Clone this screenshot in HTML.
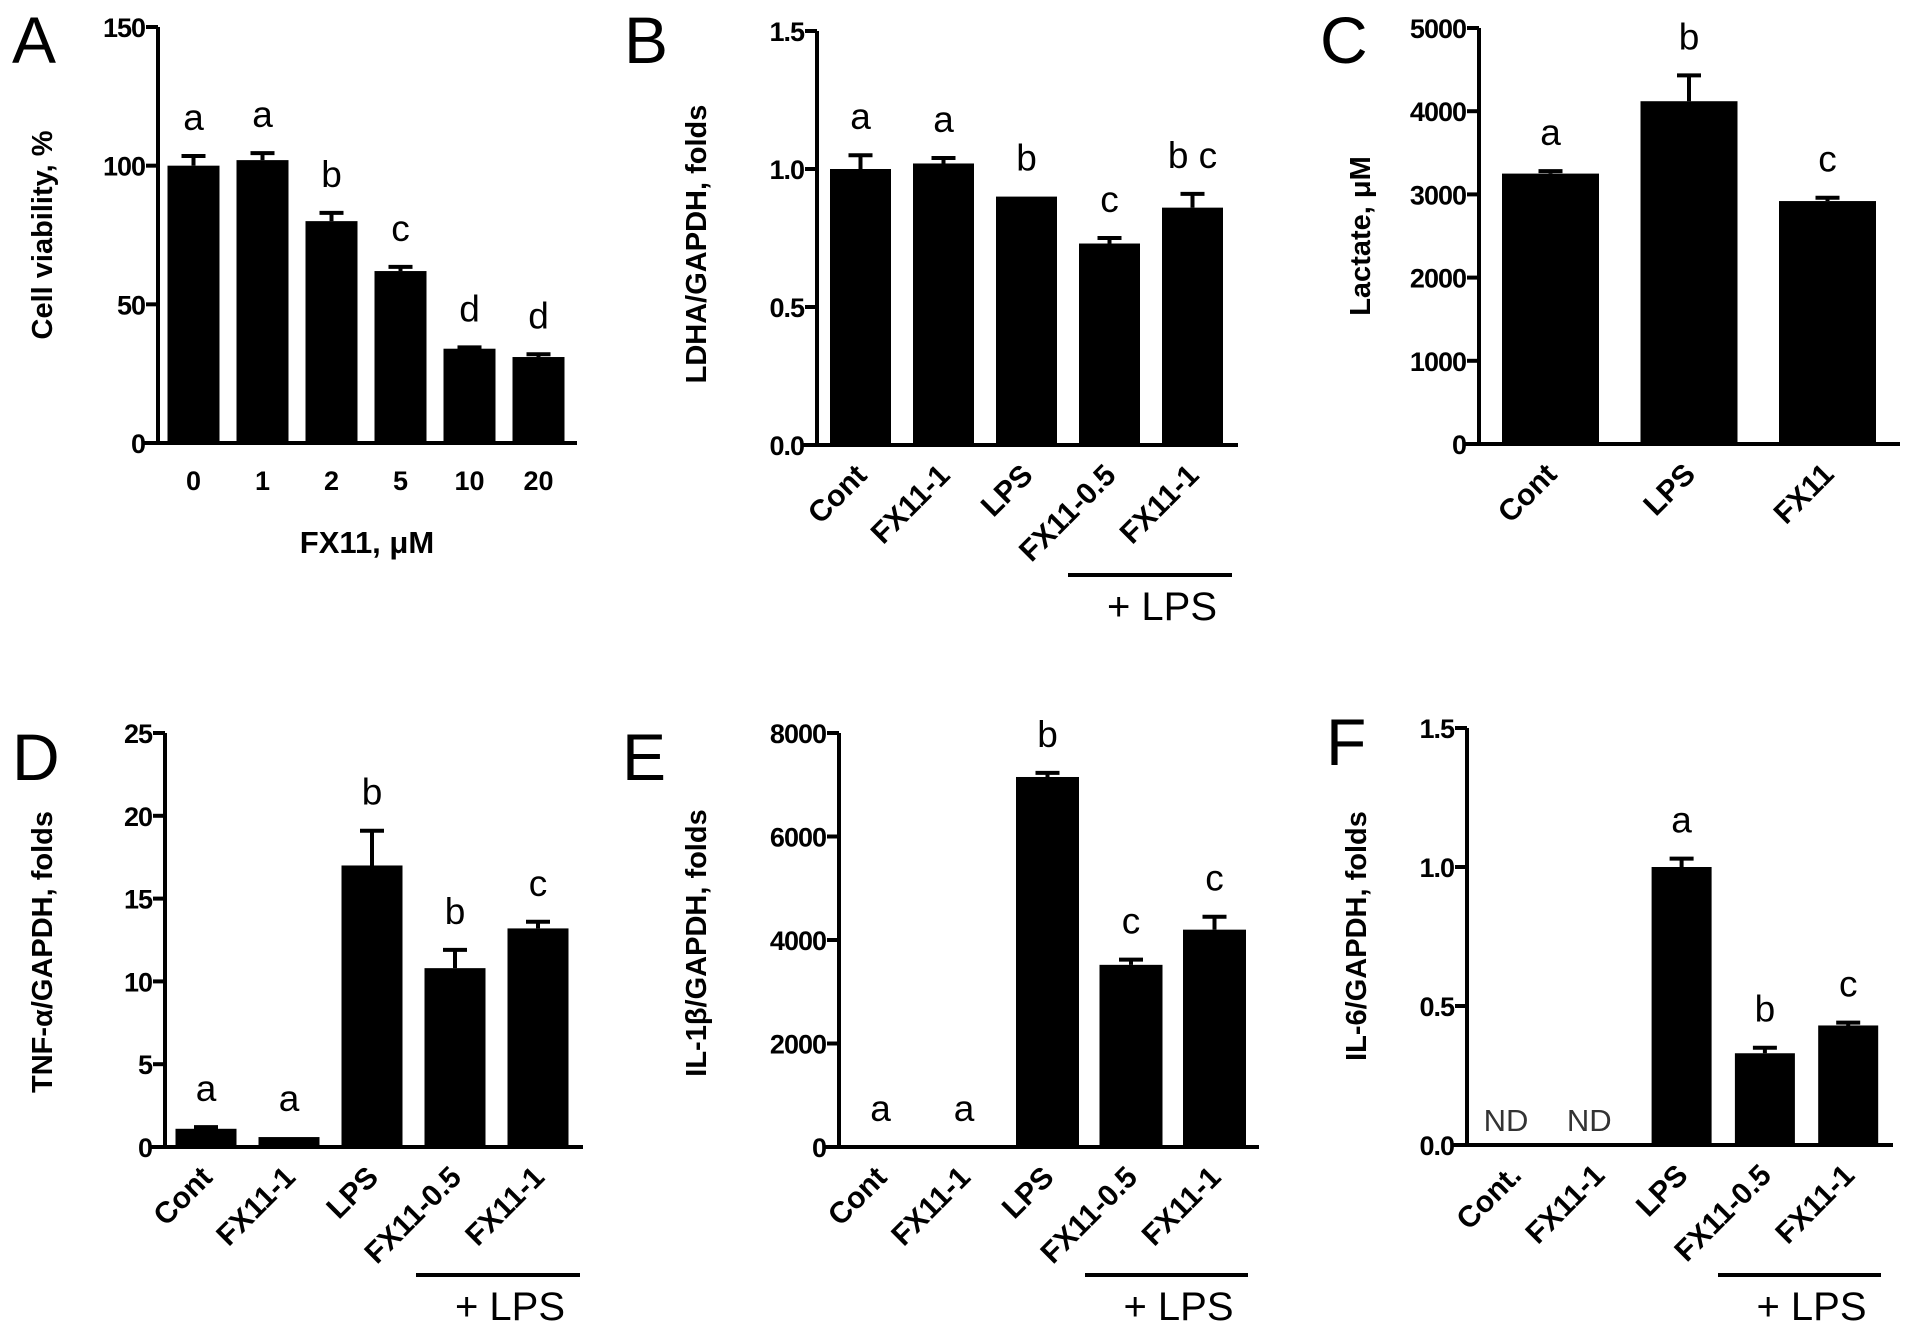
<!DOCTYPE html>
<html><head><meta charset="utf-8"><style>
html,body{margin:0;padding:0;background:#fff}
svg{display:block;font-family:"Liberation Sans",Arial,sans-serif}
</style></head><body>
<svg id="fig" width="1913" height="1332" viewBox="0 0 1913 1332" xmlns="http://www.w3.org/2000/svg"></svg>
<script>
// Panel A
const aCats = ["0","1","2","5","10","20"];
const aVals = [100,102,80,62,34,31];
const aErrs = [3.5,2.5,3,1.5,0.5,1];
const aSig = ["a","a","b","c","d","d"];
const aTicks = [0,50,100,150];
// Panel B
const bCats = ["Cont","FX11-1","LPS","FX11-0.5","FX11-1"];
const bVals = [1.0,1.02,0.90,0.73,0.86];
const bErrs = [0.05,0.02,0.0,0.02,0.05];
const bSig = ["a","a","b","c","b c"];
const bTicks = ["0.0","0.5","1.0","1.5"];
// Panel C
const cCats = ["Cont","LPS","FX11"];
const cVals = [3250,4120,2920];
const cErrs = [30,310,40];
const cSig = ["a","b","c"];
const cTicks = [0,1000,2000,3000,4000,5000];
// Panel D
const dCats = ["Cont","FX11-1","LPS","FX11-0.5","FX11-1"];
const dVals = [1.1,0.6,17.0,10.8,13.2];
const dErrs = [0.1,0.0,2.1,1.1,0.4];
const dSig = ["a","a","b","b","c"];
const dTicks = [0,5,10,15,20,25];
// Panel E
const eCats = ["Cont","FX11-1","LPS","FX11-0.5","FX11-1"];
const eVals = [0,0,7150,3520,4200];
const eErrs = [0,0,80,100,250];
const eSig = ["a","a","b","c","c"];
const eTicks = [0,2000,4000,6000,8000];
// Panel F
const fCats = ["Cont.","FX11-1","LPS","FX11-0.5","FX11-1"];
const fVals = [0,0,1.0,0.33,0.43];
const fErrs = [0,0,0.03,0.02,0.01];
const fSig = ["ND","ND","a","b","c"];
const fTicks = ["0.0","0.5","1.0","1.5"];

const NS="http://www.w3.org/2000/svg";
const svg=document.getElementById('fig');
function mk(tag,attrs,parent,txt){const e=document.createElementNS(NS,tag);for(const k in attrs)e.setAttribute(k,attrs[k]);if(txt!==undefined)e.textContent=txt;(parent||svg).appendChild(e);return e;}

function panel(p,cats,vals,errs,sig,ticks){
  const g=mk('g',{});
  
  
  const ymax=parseFloat(ticks[ticks.length-1]);
  const Y=v=>p.y0-(v/ymax)*(p.y0-p.yTop);
  const X=i=>p.c0+p.step*i;
  const L=mk('text',{x:p.lx,y:p.ly,'font-size':66},g,p.id);
  
  
  cats.forEach((c,i)=>{
    const v=vals[i],cx=X(i);
    if(v>0){
      const r=mk('rect',{x:cx-p.bw/2,y:Y(v),width:p.bw,height:p.y0-Y(v),fill:'#000'},g);
      
      
    }
    const top=v+errs[i];
    if(errs[i]>0){
      const eb=mk('path',{d:`M${cx} ${Y(v)} V${Y(top)} M${cx-12} ${Y(top)} H${cx+12}`,stroke:'#000','stroke-width':4,fill:'none'},g);
      
      
    }
    const isND=sig[i]==='ND';
    const s=mk('text',{x:cx-(isND?9:0),y:isND?p.y0-14:Y(top)-26,'text-anchor':'middle','font-size':isND?31:37,fill:isND?'#333':'#000'},g,sig[i]);
    
    
    let t;
    if(p.rot){
      const ax=cx+8,ay=p.y0+32;
      t=mk('text',{x:ax,y:ay,'text-anchor':'end','font-size':30,'font-weight':'bold',transform:`rotate(-45 ${ax} ${ay})`},g,c);
    }else{
      t=mk('text',{x:cx,y:p.y0+47,'text-anchor':'middle','font-size':27,'font-weight':'bold'},g,c);
    }
    
    
  });
  const ax=mk('path',{d:`M${p.ax} ${p.yTop} V${p.y0} M${p.ax-14} ${p.y0} H${p.xEnd}`,stroke:'#000','stroke-width':4,fill:'none'},g);
  
  
  ticks.forEach(tk=>{
    const y=Y(parseFloat(tk));
    const tm=mk('line',{x1:p.ax-12,x2:p.ax,y1:y,y2:y,stroke:'#000','stroke-width':4},g);
    
    
    const tl=mk('text',{x:p.ax-13,y:y+10,'text-anchor':'end','font-size':27,'font-weight':'bold','letter-spacing':'-1'},g,String(tk));
    
    
  });
  const yt=mk('text',{x:p.tx,y:p.ty,'text-anchor':'middle','font-size':29,'font-weight':'bold',transform:`rotate(-90 ${p.tx} ${p.ty})`},g,p.title);
  
  
  if(p.lps){
    const ln=mk('line',{x1:p.lps[0],x2:p.lps[1],y1:p.lps[2],y2:p.lps[2],stroke:'#000','stroke-width':4},g);
    
    
    const lt=mk('text',{x:(p.lps[0]+p.lps[1])/2+12,y:p.lps[2]+45,'text-anchor':'middle','font-size':40},g,'+ LPS');
    
    
  }
  return g;
}

panel({id:'A',lx:12,ly:63,ax:158,y0:443,yTop:27,xEnd:577,c0:193.5,step:69,bw:52,rot:false,tx:52,ty:235,title:'Cell viability, %'},aCats,aVals,aErrs,aSig,aTicks);
const xt=mk('text',{x:367,y:553,'text-anchor':'middle','font-size':31,'font-weight':'bold'},svg,'FX11, \u03bcM');


panel({id:'B',lx:624,ly:63,ax:817,y0:445,yTop:31,xEnd:1238,c0:860.5,step:83,bw:61,rot:true,tx:706,ty:244,title:'LDHA/GAPDH, folds',lps:[1068,1232,575]},bCats,bVals,bErrs,bSig,bTicks);
panel({id:'C',lx:1320,ly:63,ax:1479,y0:444,yTop:28,xEnd:1900,c0:1550.5,step:138.5,bw:97,rot:true,tx:1370,ty:236,title:'Lactate, \u03bcM'},cCats,cVals,cErrs,cSig,cTicks);
panel({id:'D',lx:12,ly:780,ax:165,y0:1147,yTop:733,xEnd:583,c0:206,step:83,bw:61,rot:true,tx:52,ty:952,title:'TNF-\u03b1/GAPDH, folds',lps:[416,580,1275]},dCats,dVals,dErrs,dSig,dTicks);
panel({id:'E',lx:622,ly:780,ax:839,y0:1147,yTop:733,xEnd:1259,c0:880.5,step:83.5,bw:63,rot:true,tx:706,ty:943,title:'IL-1\u03b2/GAPDH, folds',lps:[1085,1248,1275]},eCats,eVals,eErrs,eSig,eTicks);
panel({id:'F',lx:1326,ly:765,ax:1467,y0:1145,yTop:728,xEnd:1893,c0:1515,step:83.3,bw:60,rot:true,tx:1366,ty:936,title:'IL-6/GAPDH, folds',lps:[1718,1881,1275]},fCats,fVals,fErrs,fSig,fTicks);
</script>
</body></html>
